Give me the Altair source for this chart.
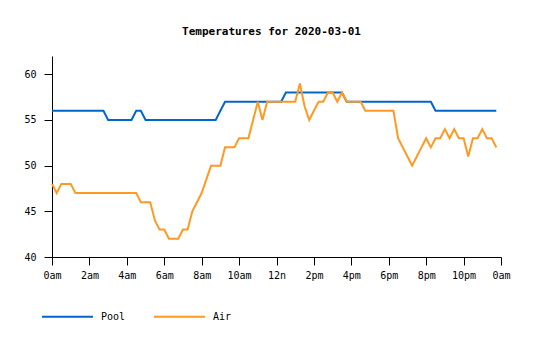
import altair as alt
import pandas as pd

# 15-minute readings, 00:00 .. 23:45 (hours)
hours = [i * 0.25 for i in range(96)]

pool = [
    56, 56, 56, 56, 56, 56, 56, 56, 56, 56, 56, 56,   # 0:00-2:45
    55, 55, 55, 55, 55, 55, 56, 56, 55, 55, 55, 55,   # 3:00-5:45
    55, 55, 55, 55, 55, 55, 55, 55, 55, 55, 55, 55,   # 6:00-8:45
    56, 57, 57, 57, 57, 57, 57, 57, 57, 57, 57, 57,   # 9:00-11:45
    57, 57, 58, 58, 58, 58, 58, 58, 58, 58, 58, 58,   # 12:00-14:45
    58, 58, 58, 57, 57, 57, 57, 57, 57, 57, 57, 57,   # 15:00-17:45
    57, 57, 57, 57, 57, 57, 57, 57, 57, 57, 56, 56,   # 18:00-20:45
    56, 56, 56, 56, 56, 56, 56, 56, 56, 56, 56, 56,   # 21:00-23:45
]

air = [
    48, 47, 48, 48, 48, 47, 47, 47, 47, 47, 47, 47,   # 0:00-2:45
    47, 47, 47, 47, 47, 47, 47, 46, 46, 46, 44, 43,   # 3:00-5:45
    43, 42, 42, 42, 43, 43, 45, 46, 47, 48.5, 50, 50, # 6:00-8:45
    50, 52, 52, 52, 53, 53, 53, 55, 57, 55, 57, 57,   # 9:00-11:45
    57, 57, 57, 57, 57, 59, 56.5, 55, 56, 57, 57, 58, # 12:00-14:45
    58, 57, 58, 57, 57, 57, 57, 56, 56, 56, 56, 56,   # 15:00-17:45
    56, 56, 53, 52, 51, 50, 51, 52, 53, 52, 53, 53,   # 18:00-20:45
    54, 53, 54, 53, 53, 51, 53, 53, 54, 53, 53, 52,   # 21:00-23:45
]

series_names = ["Pool", "Air"]
series_colors = ["#0066CC", "#FF9922"]
x_ticks = [0, 2, 4, 6, 8, 10, 12, 14, 16, 18, 20, 22, 24]
y_ticks = [40, 45, 50, 55, 60]

df = pd.concat([
    pd.DataFrame({"hour": hours, "temp": pool, "series": "Pool"}),
    pd.DataFrame({"hour": hours, "temp": air, "series": "Air"}),
])

FONT = "DejaVu Sans Mono"

label_expr = ("datum.value % 12 == 0 ? (datum.value == 12 ? '12n' : '0am') : "
              "(datum.value % 12) + (datum.value < 12 ? 'am' : 'pm')")

chart = alt.Chart(df).mark_line(strokeWidth=2, interpolate="linear").encode(
    x=alt.X("hour:Q",
            scale=alt.Scale(domain=[0, 24], nice=False, zero=False),
            axis=alt.Axis(values=x_ticks, labelExpr=label_expr, title=None,
                          grid=False, tickSize=8, labelPadding=5,
                          domainColor="black", tickColor="black",
                          labelFont=FONT, labelFontSize=10, labelColor="black",
                          labelFlush=False)),
    y=alt.Y("temp:Q",
            scale=alt.Scale(domain=[40, 62], nice=False, zero=False),
            axis=alt.Axis(values=y_ticks, title=None, grid=False, tickSize=8,
                          labelPadding=8, domainColor="black", tickColor="black",
                          labelFont=FONT, labelFontSize=10, labelColor="black")),
    color=alt.Color("series:N",
                    scale=alt.Scale(domain=series_names, range=series_colors),
                    legend=alt.Legend(title=None, orient="none", direction="horizontal",
                                      legendX=-11, legendY=234,
                                      symbolType="stroke", symbolSize=2601,
                                      symbolStrokeWidth=2, labelOffset=7,
                                      columnPadding=24, labelFont=FONT,
                                      labelFontSize=10, labelColor="black")),
    order=alt.Order("hour:Q"),
).properties(
    width=449,
    height=201,
    title=alt.TitleParams("Temperatures for 2020-03-01", font=FONT, fontSize=11,
                          fontWeight="bold", color="black", offset=19, dx=-5),
    padding={"left": 52, "top": 56, "right": 34, "bottom": 83},
    autosize=alt.AutoSizeParams(type="none"),
).configure_view(stroke=None)

chart.save("out.html", embed_options={"renderer": "svg", "actions": False})
